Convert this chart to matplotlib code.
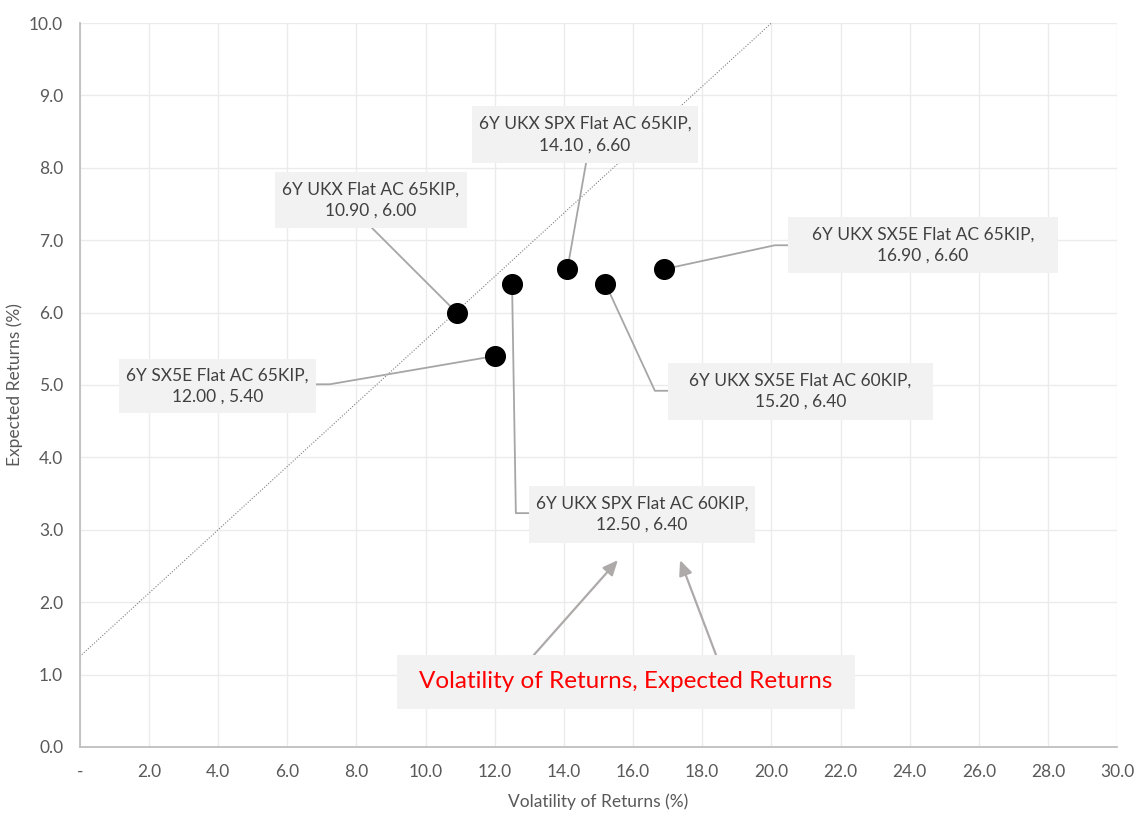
import matplotlib
matplotlib.use("Agg")
import numpy as np
from matplotlib import pyplot as plt
from matplotlib.patches import Rectangle

plt.rcParams['font.family'] = ['Lato', 'DejaVu Sans']

# data
names = ["6Y UKX SPX Flat AC 65KIP", "6Y UKX Flat AC 65KIP", "6Y UKX SX5E Flat AC 65KIP",
         "6Y SX5E Flat AC 65KIP", "6Y UKX SX5E Flat AC 60KIP", "6Y UKX SPX Flat AC 60KIP"]
volatility = [14.10, 10.90, 16.90, 12.00, 15.20, 12.50]
expected = [6.60, 6.00, 6.60, 5.40, 6.40, 6.40]

# dotted reference line
line_intercept = 1.25
line_slope = 0.4375

x_ticks = np.arange(0, 31, 2)
x_labels = ["-"] + ["%.1f" % v for v in x_ticks[1:]]
y_ticks = np.arange(0, 11, 1)

# label layout: box (x0, x1, y0, y1), leader elbow, point where leader meets box
boxes = [(11.34, 17.88, 8.066, 8.853), (5.64, 11.20, 7.169, 7.942), (20.48, 28.29, 6.547, 7.320),
         (1.13, 6.83, 4.613, 5.359), (17.01, 24.68, 4.517, 5.304), (12.99, 19.53, 2.818, 3.605)]
elbows = [None, None, (20.10, 6.93), (7.23, 5.01), (16.63, 4.92), (12.61, 3.23)]
edges = [(14.64, 8.066), (8.45, 7.169), (20.48, 6.93), (6.83, 5.01), (17.01, 4.92), (12.99, 3.23)]

grey_txt = "#404040"
box_fc = "#f2f2f2"
lead_c = "#a6a6a6"

fig = plt.figure(figsize=(11.4, 8.16), dpi=100)
ax = fig.add_axes([0.070, 0.0846, 0.910, 0.8872])

ax.set_xlim(0, 30)
ax.set_ylim(0, 10)
ax.set_xticks(x_ticks)
ax.set_xticklabels(x_labels)
ax.set_yticks(y_ticks)
ax.set_yticklabels(["%.1f" % v for v in y_ticks])
ax.tick_params(length=0, labelsize=12.5, labelcolor="#595959", pad=12)
ax.grid(True, color="#ebebeb", linewidth=1)
ax.set_axisbelow(True)
for s in ["top", "right"]:
    ax.spines[s].set_visible(False)
for s in ["left", "bottom"]:
    ax.spines[s].set_color("#bfbfbf")
    ax.spines[s].set_linewidth(1.3)

ax.set_xlabel("Volatility of Returns (%)", fontsize=12.5, color="#595959", labelpad=10)
ax.set_ylabel("Expected Returns (%)", fontsize=12.5, color="#595959", labelpad=4)

xs = np.array([0, 30])
ax.plot(xs, line_intercept + line_slope * xs, linestyle=(0, (1, 1.5)), color="#7f7f7f",
        linewidth=0.8, zorder=2)

# leader lines
for i in range(len(names)):
    path = [(volatility[i], expected[i])]
    if elbows[i] is not None:
        path.append(elbows[i])
    path.append(edges[i])
    path = np.array(path)
    ax.plot(path[:, 0], path[:, 1], color=lead_c, linewidth=1.3, zorder=3)

ax.scatter(volatility, expected, s=200, color="black", zorder=5)

for i in range(len(names)):
    x0, x1, y0, y1 = boxes[i]
    ax.add_patch(Rectangle((x0, y0), x1 - x0, y1 - y0, fc=box_fc, ec="none", zorder=6))
    ax.text((x0 + x1) / 2, (y0 + y1) / 2,
            "%s,\n%.2f , %.2f" % (names[i], volatility[i], expected[i]),
            ha="center", va="center", fontsize=12.5, color=grey_txt, linespacing=1.4, zorder=7)

# axis title callout
for tail, head in [((13.13, 1.27), (15.56, 2.58)), ((18.40, 1.27), (17.36, 2.58))]:
    ax.annotate("", xy=head, xytext=tail,
                arrowprops=dict(arrowstyle="-|>,head_length=0.9,head_width=0.4",
                                color="#aeaaaa", lw=1.6, shrinkA=0, shrinkB=0), zorder=4)
ax.add_patch(Rectangle((9.17, 0.525), 22.42 - 9.17, 1.271 - 0.525, fc=box_fc, ec="none", zorder=6))
ax.text(15.79, 0.90, "Volatility of Returns, Expected Returns", ha="center", va="center",
        fontsize=17.5, color="red", zorder=7)

fig.savefig("out.png", dpi=100)
